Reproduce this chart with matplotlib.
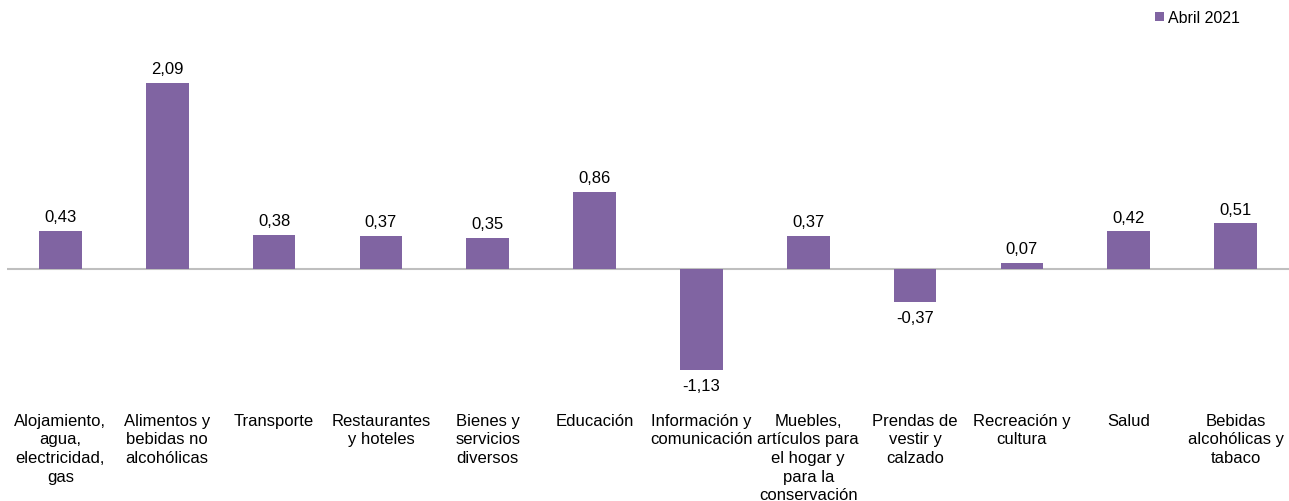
import matplotlib
matplotlib.use("Agg")
import matplotlib.pyplot as plt

categories = [
    "Alojamiento,\nagua,\nelectricidad,\ngas",
    "Alimentos y\nbebidas no\nalcohólicas",
    "Transporte",
    "Restaurantes\ny hoteles",
    "Bienes y\nservicios\ndiversos",
    "Educación",
    "Información y\ncomunicación",
    "Muebles,\nartículos para\nel hogar y\npara la\nconservación",
    "Prendas de\nvestir y\ncalzado",
    "Recreación y\ncultura",
    "Salud",
    "Bebidas\nalcohólicas y\ntabaco",
]
values = [0.43, 2.09, 0.38, 0.37, 0.35, 0.86, -1.13, 0.37, -0.37, 0.07, 0.42, 0.51]
series_name = "Abril 2021"

plt.rcParams['font.family'] = ['Liberation Sans', 'DejaVu Sans']
W, H = 1289, 502
fig = plt.figure(figsize=(W / 100, H / 100), dpi=100)
ax = fig.add_axes([7 / W, (H - 400) / H, (1289 - 7) / W, 360 / H])

color = "#8064A2"
x = list(range(len(values)))
bars = ax.bar(x, values, width=0.4, color=color, label=series_name, zorder=2)
ax.set_xlim(-0.5, len(values) - 0.5)
ax.set_ylim(-1.46, 2.58)
ax.axhline(0, color="#BFBFBF", linewidth=1.5, zorder=1)

for xi, v in zip(x, values):
    txt = f"{v:.2f}".replace(".", ",")
    if v >= 0:
        ax.annotate(txt, (xi, v), xytext=(0, 5), textcoords="offset points",
                    ha="center", va="bottom", fontsize=12, color="#000000")
    else:
        ax.annotate(txt, (xi, v), xytext=(0, -6), textcoords="offset points",
                    ha="center", va="top", fontsize=12, color="#000000")

ax.set_xticks(x)
ax.set_xticklabels(categories, fontsize=12, linespacing=1.3, va="top")
ax.tick_params(axis="x", length=0, pad=10)
ax.set_yticks([])
for s in ax.spines.values():
    s.set_visible(False)

leg = ax.legend(loc="upper right", bbox_to_anchor=(1251 / W, 1.0), bbox_transform=fig.transFigure,
                frameon=False, fontsize=11.5, handlelength=0.55, handleheight=0.55,
                handletextpad=0.25, borderaxespad=0.3)

fig.savefig("out.png", dpi=100)
